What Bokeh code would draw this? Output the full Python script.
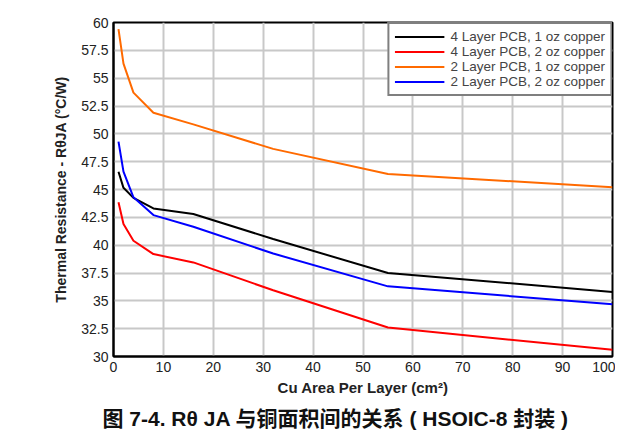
from bokeh.plotting import figure
from bokeh.models import Legend, LegendItem, FixedTicker, Range1d, Title
from bokeh.embed import file_html
from bokeh.resources import INLINE

# ---- data ----
area = [1, 2, 4, 8, 16, 32, 55, 100]
r_4l_1oz = [46.6, 45.15, 44.25, 43.3, 42.8, 40.55, 37.5, 35.8]
r_4l_2oz = [43.85, 41.9, 40.4, 39.2, 38.45, 35.95, 32.6, 30.6]
r_2l_1oz = [59.4, 56.3, 53.7, 51.9, 50.85, 48.65, 46.4, 45.2]
r_2l_2oz = [49.3, 46.6, 44.3, 42.7, 41.65, 39.25, 36.3, 34.7]

series_names = ["4 Layer PCB, 1 oz copper", "4 Layer PCB, 2 oz copper",
                "2 Layer PCB, 1 oz copper", "2 Layer PCB, 2 oz copper"]
series_colors = ["#000000", "#ff0000", "#ff6a00", "#0000ff"]

x_ticks = [0, 10, 20, 30, 40, 50, 60, 70, 80, 90, 100]
y_ticks = [30, 32.5, 35, 37.5, 40, 42.5, 45, 47.5, 50, 52.5, 55, 57.5, 60]
y_tick_labels = ["30", "32.5", "35", "37.5", "40", "42.5", "45", "47.5", "50",
                 "52.5", "55", "57.5", "60"]

x_label = "Cu Area Per Layer (cm\u00b2)"
y_label = "Thermal Resistance - R\u03b8JA (\u00b0C/W)"
caption = "\u56fe 7-4. R\u03b8 JA \u4e0e\u94dc\u9762\u79ef\u95f4\u7684\u5173\u7cfb ( HSOIC-8 \u5c01\u88c5 )"

FONT = "Liberation Sans"
CAP_FONT = "'Liberation Sans', 'Noto Sans CJK SC'"

p = figure(width=615, height=435, output_backend="svg", toolbar_location=None,
           x_range=Range1d(0, 100), y_range=Range1d(30, 60),
           min_border_left=113, min_border_right=3, min_border_top=22,
           min_border_bottom=10)

p.outline_line_color = "black"
p.outline_line_width = 2
p.background_fill_color = "white"
p.border_fill_color = "white"

for ax in (p.xaxis[0], p.yaxis[0]):
    ax.axis_line_color = "black"
    ax.axis_line_width = 2
    ax.major_tick_in = 0
    ax.major_tick_out = 0
    ax.minor_tick_in = 0
    ax.minor_tick_out = 0
    ax.major_label_text_font = FONT
    ax.major_label_text_font_size = "14px"
    ax.major_label_text_color = "#222222"
    ax.axis_label_text_font = FONT
    ax.axis_label_text_font_style = "bold"
    ax.axis_label_text_color = "#222222"

p.xaxis.ticker = FixedTicker(ticks=x_ticks)
p.yaxis.ticker = FixedTicker(ticks=y_ticks)
p.yaxis.major_label_overrides = {t: l for t, l in zip(y_ticks, y_tick_labels)}
p.xaxis.major_label_standoff = 5
p.yaxis.major_label_standoff = 5

p.xaxis.axis_label = x_label
p.xaxis.axis_label_text_font_size = "15px"
p.xaxis.axis_label_standoff = 4
p.yaxis.axis_label = y_label
p.yaxis.axis_label_text_font_size = "14px"
p.yaxis.axis_label_standoff = 9

p.grid.grid_line_color = "#c8c8c8"
p.grid.grid_line_width = 2

renderers = []
for ys, c in zip([r_4l_1oz, r_4l_2oz, r_2l_1oz, r_2l_2oz], series_colors):
    renderers.append(p.line(area, ys, line_color=c, line_width=2))

legend = Legend(items=[LegendItem(label=n, renderers=[r]) for n, r in zip(series_names, renderers)],
                location="top_right", margin=0, padding=5, spacing=0,
                glyph_width=50, glyph_height=13, label_height=13, label_standoff=6,
                label_text_font=FONT, label_text_font_size="13.5px",
                label_text_line_height=1.0,
                border_line_color="black", border_line_width=2,
                background_fill_alpha=1.0)
p.add_layout(legend)

cap = Title(text=caption, align="left", offset=-11, standoff=12,
            text_font=CAP_FONT, text_font_style="bold", text_font_size="21px",
            text_color="#111111")
p.add_layout(cap, "below")

open("out.html", "w").write(file_html(p, INLINE))
